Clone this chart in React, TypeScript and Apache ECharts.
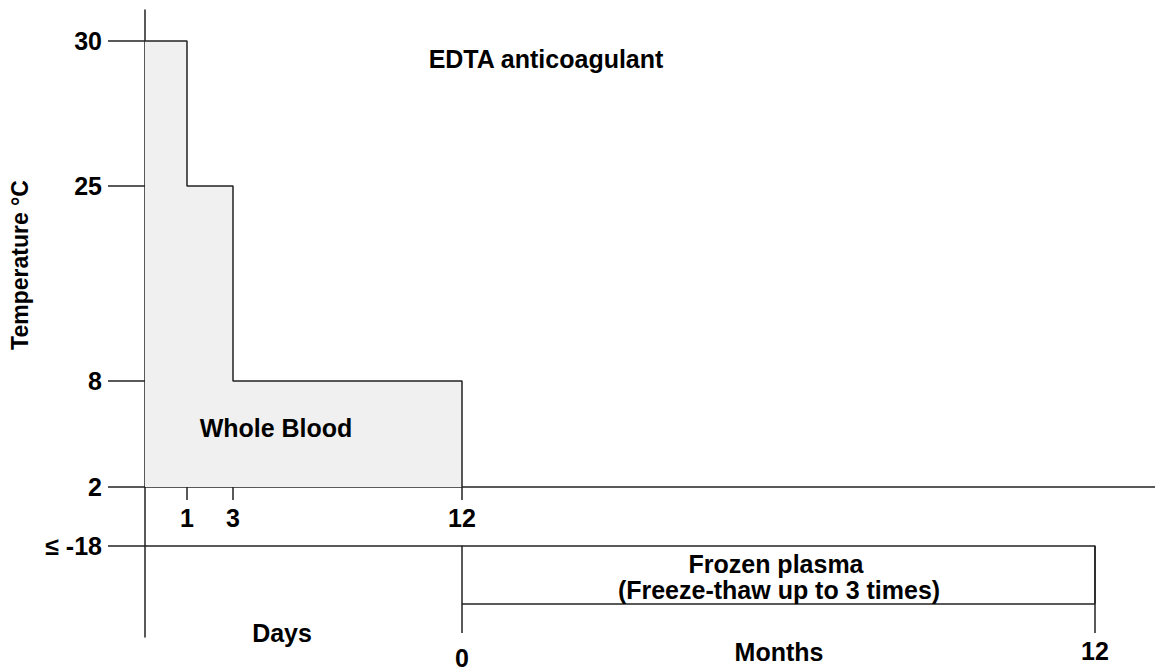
import React, { useEffect, useRef } from "react";
import * as echarts from "echarts";

// ---- data ----
const tempLevelsAbove = [30, 25, 8, 2];
const tempLabelsAbove = ["30", "25", "8", "2"];
const tempLevelsBelow = [-18];
const tempLabelsBelow = ["≤ -18"];
const dayTicks = [1, 3, 12];
const dayLabels = ["1", "3", "12"];
const monthTicks = [0, 12];
const monthLabels = ["0", "12"];
const wholeBloodDays = [0, 1, 1, 3, 3, 12, 12];
const wholeBloodTemps = [30, 30, 25, 25, 8, 8, 2];
const frozenMonths = [0, 12];
const frozenTemp = -18;

// ---- schematic (non-linear) axis scales ----
const TEMP_SCALE: [number, number][] = [[-18, -60], [2, 0], [8, 106], [25, 301], [30, 446]];
const DAY_SCALE: [number, number][] = [[0, 0], [1, 42], [3, 88], [12, 317]];
const MONTH_SCALE: [number, number][] = [[0, 317], [12, 950]];
const BOX_DEPTH = 59;
const MONTH_LINE_BOTTOM = -149;

function interp(scale: [number, number][], v: number): number {
  for (let i = 0; i < scale.length - 1; i++) {
    const [a, pa] = scale[i];
    const [b, pb] = scale[i + 1];
    if (v >= a && v <= b) return pa + ((v - a) / (b - a)) * (pb - pa);
  }
  if (v < scale[0][0]) return scale[0][1];
  return scale[scale.length - 1][1];
}
const ty = (t: number) => interp(TEMP_SCALE, t);
const dx = (d: number) => interp(DAY_SCALE, d);
const mx = (m: number) => interp(MONTH_SCALE, m);
const key = (v: number) => Math.round(v * 1000) / 1000;

const BOLD = '"Liberation Sans", Arial, Helvetica, sans-serif';
const lineCol = "#222";

function makeMap(pos: number[], labels: string[]) {
  const m = new Map<number, string>();
  pos.forEach((p, i) => m.set(key(p), labels[i]));
  return m;
}

export default function App() {
  const ref = useRef<HTMLDivElement>(null);
  useEffect(() => {
    if (!ref.current) return;
    const chart = echarts.init(ref.current, undefined, { renderer: "svg" });

    const tempPosA = tempLevelsAbove.map(ty);
    const tempMapA = makeMap(tempPosA, tempLabelsAbove);
    const tempPosB = tempLevelsBelow.map(ty);
    const tempMapB = makeMap(tempPosB, tempLabelsBelow);
    const dayPos = dayTicks.map(dx);
    const dayMap = makeMap(dayPos, dayLabels);
    const monthPos = monthTicks.map(mx);
    const monthMap = makeMap(monthPos, monthLabels.map((l, i) => (i === 0 ? `{lo|${l}}` : `{hi|${l}}`)));

    const wb = wholeBloodDays.map((d, i) => [dx(d), ty(wholeBloodTemps[i])]);
    const fTop = ty(frozenTemp);
    const fBot = fTop - BOX_DEPTH;
    const m0 = mx(frozenMonths[0]);
    const m1 = mx(frozenMonths[1]);
    const segs = [
      [[dx(0), fTop], [m0, fTop]],
      [[m0, fTop], [m1, fTop]],
      [[m1, fTop], [m1, fBot]],
      [[m1, fBot], [m0, fBot]],
      [[m0, fTop], [m0, MONTH_LINE_BOTTOM]],
      [[m1, fTop], [m1, MONTH_LINE_BOTTOM]],
    ];

    const tickLabelStyle = { color: "#000", fontFamily: BOLD, fontWeight: "bold", fontSize: 25 };

    chart.setOption({
      animation: false,
      backgroundColor: "#fff",
      grid: [
        { left: 145, top: 10, width: 1010, height: 477 },
        { left: 145, top: 487, width: 1010, height: 153 },
      ],
      xAxis: [
        {
          gridIndex: 0,
          type: "value",
          min: 0,
          max: 1010,
          position: "bottom",
          axisLine: { show: true, onZero: false, lineStyle: { color: lineCol, width: 1.5 } },
          axisTick: { show: true, customValues: dayPos, length: 13, lineStyle: { color: lineCol, width: 1.5 } },
          axisLabel: {
            customValues: dayPos,
            formatter: (v: number) => dayMap.get(key(v)) ?? "",
            margin: 18,
            ...tickLabelStyle,
          },
          splitLine: { show: false },
        },
        {
          gridIndex: 1,
          type: "value",
          min: 0,
          max: 1010,
          position: "bottom",
          axisLine: { show: false, onZero: false },
          axisTick: { show: false },
          axisLabel: {
            customValues: monthPos,
            formatter: (v: number) => monthMap.get(key(v)) ?? "",
            margin: 1,
            ...tickLabelStyle,
            rich: {
              lo: { fontFamily: BOLD, fontWeight: "bold", fontSize: 25, color: "#000", padding: [7, 0, 0, 0] },
              hi: { fontFamily: BOLD, fontWeight: "bold", fontSize: 25, color: "#000" },
            },
          },
          splitLine: { show: false },
        },
      ],
      yAxis: [
        {
          gridIndex: 0,
          type: "value",
          min: 0,
          max: 477,
          axisLine: { show: true, onZero: false, lineStyle: { color: lineCol, width: 1.5 } },
          axisTick: { show: true, customValues: tempPosA, length: 37, lineStyle: { color: lineCol, width: 1.5 } },
          axisLabel: {
            customValues: tempPosA,
            formatter: (v: number) => tempMapA.get(key(v)) ?? "",
            margin: 43,
            ...tickLabelStyle,
          },
          splitLine: { show: false },
        },
        {
          gridIndex: 1,
          type: "value",
          min: -153,
          max: 0,
          axisLine: { show: true, onZero: false, lineStyle: { color: lineCol, width: 1.5 } },
          axisTick: { show: true, customValues: tempPosB, length: 37, lineStyle: { color: lineCol, width: 1.5 } },
          axisLabel: {
            customValues: tempPosB,
            formatter: (v: number) => tempMapB.get(key(v)) ?? "",
            margin: 43,
            ...tickLabelStyle,
          },
          splitLine: { show: false },
        },
      ],
      series: [
        {
          type: "line",
          name: "Whole Blood",
          xAxisIndex: 0,
          yAxisIndex: 0,
          data: wb,
          symbol: "none",
          lineStyle: { color: lineCol, width: 1.5 },
          areaStyle: { color: "#f0f0f0", opacity: 1, origin: "start" },
          z: 1,
        },
        {
          type: "lines",
          coordinateSystem: "cartesian2d",
          xAxisIndex: 1,
          yAxisIndex: 1,
          data: segs.map((c) => ({ coords: c })),
          lineStyle: { color: lineCol, width: 1.5, opacity: 1 },
          symbol: "none",
          z: 3,
        },
      ],
      graphic: {
        z: 100,
        elements: [
          {
            type: "text",
            x: 546,
            y: 59,
            z: 100,
            style: { text: "EDTA anticoagulant", fontFamily: BOLD, fontWeight: "bold", fontSize: 25, fill: "#000", textAlign: "center", textVerticalAlign: "middle" },
          },
          {
            type: "text",
            x: 276,
            y: 428,
            z: 100,
            style: { text: "Whole Blood", fontFamily: BOLD, fontWeight: "bold", fontSize: 25, fill: "#000", textAlign: "center", textVerticalAlign: "middle" },
          },
          {
            type: "text",
            x: 20,
            y: 265,
            z: 100,
            rotation: Math.PI / 2,
            style: { text: "Temperature °C", fontFamily: BOLD, fontWeight: "bold", fontSize: 23, fill: "#000", textAlign: "center", textVerticalAlign: "middle" },
          },
          {
            type: "text",
            x: 776,
            y: 564,
            z: 100,
            style: { text: "Frozen plasma", fontFamily: BOLD, fontWeight: "bold", fontSize: 25, fill: "#000", textAlign: "center", textVerticalAlign: "middle" },
          },
          {
            type: "text",
            x: 779,
            y: 590,
            z: 100,
            style: { text: "(Freeze-thaw up to 3 times)", fontFamily: BOLD, fontWeight: "bold", fontSize: 25, fill: "#000", textAlign: "center", textVerticalAlign: "middle" },
          },
          {
            type: "text",
            x: 282,
            y: 633,
            z: 100,
            style: { text: "Days", fontFamily: BOLD, fontWeight: "bold", fontSize: 25, fill: "#000", textAlign: "center", textVerticalAlign: "middle" },
          },
          {
            type: "text",
            x: 779,
            y: 652,
            z: 100,
            style: { text: "Months", fontFamily: BOLD, fontWeight: "bold", fontSize: 25, fill: "#000", textAlign: "center", textVerticalAlign: "middle" },
          },
        ],
      },
    });
    return () => chart.dispose();
  }, []);
  return <div ref={ref} style={{ position: "absolute", left: 0, top: 0, width: 1155, height: 670 }} />;
}
